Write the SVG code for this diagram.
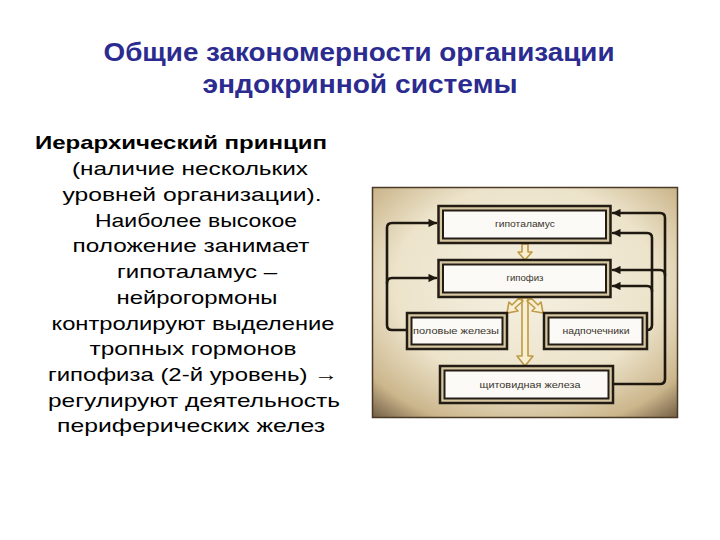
<svg xmlns="http://www.w3.org/2000/svg" width="720" height="540" viewBox="0 0 720 540">
<style>
.title{font-family:"Liberation Sans",Arial,sans-serif;font-weight:bold;font-size:25px;fill:#2b2b90;text-anchor:middle}
.body{font-family:"Liberation Sans",Arial,sans-serif;font-size:19px;fill:#000;text-anchor:middle}
.head{font-family:"Liberation Sans",Arial,sans-serif;font-weight:bold;font-size:19px;fill:#000}
.lbl{font-family:"Liberation Sans",Arial,sans-serif;font-size:9px;fill:#3a342c;text-anchor:middle}
.outer{fill:#d8c8a2;stroke:#231c14;stroke-width:2.5}
.inner{fill:#fbfaf6;stroke:#231c14;stroke-width:2}
.fb{fill:none;stroke:#1f1810;stroke-width:2.6;stroke-linejoin:round;stroke-linecap:round}
.hollow{fill:#f6efd2;stroke:#c09a45;stroke-width:1.6;stroke-linejoin:round}
</style>
<defs>
<radialGradient id="bg" cx="0.5" cy="0.42" r="0.78">
<stop offset="0" stop-color="#f5f0e2"/>
<stop offset="0.55" stop-color="#ece3ca"/>
<stop offset="0.82" stop-color="#cbb68c"/>
<stop offset="1" stop-color="#65513a"/>
</radialGradient>
<marker id="ah" viewBox="0 0 10 10" refX="9" refY="5" markerWidth="3.4" markerHeight="3.2" orient="auto" markerUnits="strokeWidth">
<path d="M0,0 L10,5 L0,10 Z" fill="#1f1810"/>
</marker>
</defs>
<rect width="720" height="540" fill="#ffffff"/>
<text class="title" x="359" y="61" textLength="511" lengthAdjust="spacingAndGlyphs">Общие закономерности организации</text>
<text class="title" x="360" y="93" textLength="315" lengthAdjust="spacingAndGlyphs">эндокринной системы</text>
<g id="text">
<text class="head" x="35" y="149" textLength="292" lengthAdjust="spacingAndGlyphs">Иерархический принцип</text>
<text class="body" x="190" y="175" textLength="236" lengthAdjust="spacingAndGlyphs">(наличие нескольких</text>
<text class="body" x="192" y="201" textLength="259" lengthAdjust="spacingAndGlyphs">уровней организации).</text>
<text class="body" x="196" y="227" textLength="202" lengthAdjust="spacingAndGlyphs">Наиболее высокое</text>
<text class="body" x="191" y="252" textLength="237" lengthAdjust="spacingAndGlyphs">положение занимает</text>
<text class="body" x="197" y="278" textLength="160" lengthAdjust="spacingAndGlyphs">гипоталамус –</text>
<text class="body" x="197" y="304" textLength="161" lengthAdjust="spacingAndGlyphs">нейрогормоны</text>
<text class="body" x="193" y="330" textLength="283" lengthAdjust="spacingAndGlyphs">контролируют выделение</text>
<text class="body" x="193" y="355" textLength="207" lengthAdjust="spacingAndGlyphs">тропных гормонов</text>
<text class="body" x="193" y="381" textLength="290" lengthAdjust="spacingAndGlyphs">гипофиза (2-й уровень) →</text>
<text class="body" x="194" y="407" textLength="292" lengthAdjust="spacingAndGlyphs">регулируют деятельность</text>
<text class="body" x="191" y="432" textLength="268" lengthAdjust="spacingAndGlyphs">периферических желез</text>
</g>
<g id="photo">
<rect x="372" y="187" width="306" height="231" fill="url(#bg)"/>
<rect x="372.5" y="187.5" width="305" height="230" fill="none" stroke="#4a3a26" stroke-width="1.5"/>
</g>
<g id="connectors">
<path class="fb" d="M407,330 H392 Q387,330 387,325 V228 Q387,223 392,223 H436" marker-end="url(#ah)"/>
<path class="fb" d="M387,283 Q387,278 392,278 H436" marker-end="url(#ah)"/>
<path class="fb" d="M647,330 H647 Q652,330 652,325 V238 Q652,233 647,233 H613" marker-end="url(#ah)"/>
<path class="fb" d="M652,291 Q652,286 647,286 H613" marker-end="url(#ah)"/>
<path class="fb" d="M613,384 H660 Q665,384 665,379 V218 Q665,213 660,213 H613" marker-end="url(#ah)"/>
<path class="fb" d="M665,275 Q665,270 660,270 H613" marker-end="url(#ah)"/>
<path class="hollow" d="M522,244 H528 V252 H532 L525,260 L518,252 H522 Z"/>
<path class="hollow" d="M522,298 H528 V356 H533 L525,366 L517,356 H522 Z"/>
<path class="hollow" d="M519,298 L523,301 L515,308 L518,311 L507,313 L509,302 L512,305 Z"/>
<path class="hollow" d="M531,298 L527,301 L535,308 L532,311 L543,313 L541,302 L538,305 Z"/>
</g>
<g id="gipotalamus">
<rect class="outer" x="438.5" y="206" width="172" height="37"/>
<rect class="inner" x="443" y="210.5" width="163" height="28"/>
<text class="lbl" x="525" y="227" textLength="60" lengthAdjust="spacingAndGlyphs">гипоталамус</text>
</g>
<g id="gipofiz">
<rect class="outer" x="438.5" y="260" width="172" height="37"/>
<rect class="inner" x="443" y="264.5" width="163" height="28"/>
<text class="lbl" x="525" y="281" textLength="37" lengthAdjust="spacingAndGlyphs">гипофиз</text>
</g>
<g id="polovye">
<rect class="outer" x="407" y="313" width="100" height="36"/>
<rect class="inner" x="411.5" y="317.5" width="91" height="27"/>
<text class="lbl" x="456" y="334" textLength="86" lengthAdjust="spacingAndGlyphs">половые железы</text>
</g>
<g id="nadpochechniki">
<rect class="outer" x="544" y="313" width="103" height="36"/>
<rect class="inner" x="548.5" y="317.5" width="94" height="27"/>
<text class="lbl" x="596" y="334" textLength="67" lengthAdjust="spacingAndGlyphs">надпочечники</text>
</g>
<g id="shchitovidnaya">
<rect class="outer" x="440" y="366" width="173" height="37"/>
<rect class="inner" x="444.5" y="370.5" width="164" height="28"/>
<text class="lbl" x="530" y="388" textLength="101" lengthAdjust="spacingAndGlyphs">щитовидная железа</text>
</g>
</svg>
